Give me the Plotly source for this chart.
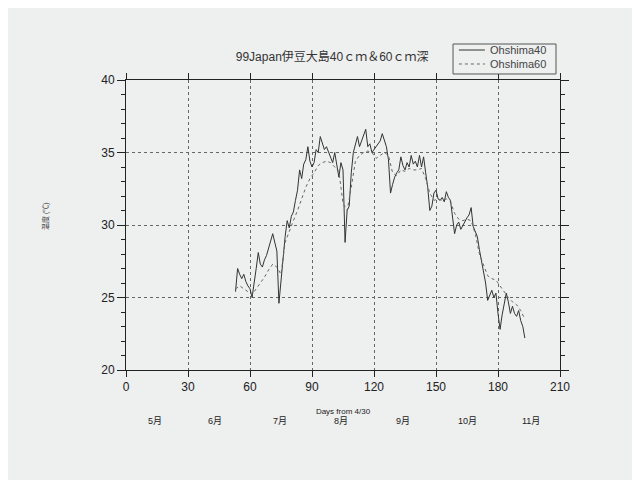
import plotly.graph_objects as go

# daily temperature at 40 cm, days 53..193 from 4/30
days40 = list(range(53, 194))
temp40 = [
    25.4, 27.0, 26.6, 26.3, 26.6, 26.1, 25.8, 25.6, 25.0, 26.2,
    27.0, 28.1, 27.3, 27.1, 27.6, 27.9, 28.5, 28.9, 29.4, 28.7,
    28.2, 24.6, 26.2, 28.0, 29.2, 30.3, 29.8, 30.6, 30.9, 31.7,
    32.4, 33.8, 33.2, 34.2, 34.5, 35.4, 34.4, 34.0, 34.3, 35.2,
    35.0, 36.1, 35.6, 35.2, 35.4, 35.0, 34.7, 34.3, 35.0, 34.2,
    33.3, 34.3, 33.8, 28.8, 31.0, 31.3, 33.6, 35.0, 35.5, 36.1,
    35.4, 35.8, 36.2, 36.6, 35.4, 35.6, 35.0, 35.2, 35.4, 35.6,
    35.8, 36.3, 35.9, 35.4, 34.5, 32.2, 32.8, 33.3, 33.6, 33.8,
    34.7, 34.1, 33.8, 34.3, 34.0, 34.8, 34.2, 34.4, 34.0, 34.8,
    34.0, 34.7, 33.6, 32.6, 31.0, 31.3, 32.2, 32.4, 31.8, 31.7,
    31.9, 31.6, 32.3, 31.9, 31.7, 30.3, 29.4, 30.0, 30.2, 29.7,
    30.0, 30.2, 30.5, 30.7, 31.2, 29.9, 29.6, 29.2, 28.3, 27.6,
    26.9, 26.0, 24.8, 25.2, 25.5, 25.0, 25.3, 23.9, 22.8, 23.8,
    24.6, 25.3, 24.7, 23.9, 24.4, 23.9, 23.7, 24.1, 23.4, 23.0,
    22.2,
]

# temperature at 60 cm, every second day
days60 = list(range(53, 194, 2))
temp60 = [
    25.6, 25.8, 25.6, 25.4, 25.2, 25.6, 26.0, 26.4, 26.9, 27.3,
    27.1, 26.6, 28.8, 29.6, 30.3, 31.0, 31.8, 32.6, 33.2, 33.6,
    34.1, 34.3, 34.4, 34.3, 34.0, 33.7, 31.5, 31.0, 32.6, 34.4,
    34.8, 35.0, 35.1, 35.0, 34.6, 34.8, 35.0, 34.8, 33.6, 33.4,
    33.8, 33.7, 33.9, 33.8, 33.8, 33.9, 33.2, 32.2, 31.7, 31.8,
    31.7, 31.8, 31.6, 30.8, 30.4, 30.3, 30.4, 30.3, 29.4, 28.0,
    27.2, 26.5, 26.3, 26.2, 25.8, 25.4, 25.0, 24.7, 24.5, 24.1,
    23.5,
]

month_pos = [14, 43, 74.5, 104, 134, 165, 196]
month_labels = ["5月", "6月", "7月", "8月", "9月", "10月", "11月"]

bg = "#eeefef"
font = "Liberation Sans, Noto Sans CJK JP"

line40 = dict(color="#333333", width=1)
line60 = dict(color="#666666", width=1, dash="dot")

fig = go.Figure()
fig.add_trace(go.Scatter(x=days40, y=temp40, mode="lines", name="Ohshima40", line=line40))
fig.add_trace(go.Scatter(x=days60, y=temp60, mode="lines", name="Ohshima60", line=line60))

# month names under the day axis
for x, t in zip(month_pos, month_labels):
    fig.add_annotation(x=x, y=-0.201, xref="x", yref="paper", text=t, showarrow=False,
                       font=dict(size=9, color="#222222"))

fig.add_annotation(x=-0.2, y=0.53, xref="paper", yref="paper", text="温度 (℃)", showarrow=False,
                   textangle=-90, font=dict(size=7, color="#333333"))

# compact legend box drawn by hand (plotly's own legend rows are too tall)
fig.add_shape(type="rect", xref="paper", yref="paper", x0=0.7535, x1=0.9908, y0=1.0207, y1=1.1241,
              line=dict(color="#555555", width=1), fillcolor=bg)
for yy, name, ln in [(1.1034, "Ohshima40", line40), (1.0552, "Ohshima60", line60)]:
    fig.add_shape(type="line", xref="paper", yref="paper", x0=0.767, x1=0.827, y0=yy, y1=yy, line=ln)
    fig.add_annotation(x=0.834, y=yy, xref="paper", yref="paper", text=name, showarrow=False,
                       xanchor="left", yanchor="middle", font=dict(size=11, color="#444444"))

fig.update_layout(
    width=640, height=480,
    margin=dict(l=118, r=88, t=72, b=118),
    paper_bgcolor=bg, plot_bgcolor=bg,
    font=dict(family=font, color="#222222", size=12),
    title=dict(text="99Japan伊豆大島40ｃｍ＆60ｃｍ深", x=0.475, xref="paper", xanchor="center",
               y=1 - 49 / 480, yref="container", yanchor="middle",
               font=dict(size=12, color="#333333")),
    showlegend=False,
)
fig.update_xaxes(range=[0, 210], tickvals=[0, 30, 60, 90, 120, 150, 180, 210],
                 showgrid=True, gridcolor="#666666", griddash="dot", gridwidth=1,
                 showline=True, linecolor="#222222", mirror="ticks", ticks="outside",
                 ticklen=6, tickcolor="#222222", zeroline=False,
                 title=dict(text="Days from 4/30", font=dict(size=8), standoff=14))
fig.update_yaxes(range=[20, 40], tickvals=[20, 25, 30, 35, 40],
                 showgrid=True, gridcolor="#666666", griddash="dot", gridwidth=1,
                 showline=True, linecolor="#222222", mirror="ticks", ticks="outside",
                 ticklen=8, tickcolor="#222222", zeroline=False,
                 minor=dict(dtick=1, ticks="outside", ticklen=4, tickcolor="#222222", showgrid=False))

fig.write_html("out.html")
